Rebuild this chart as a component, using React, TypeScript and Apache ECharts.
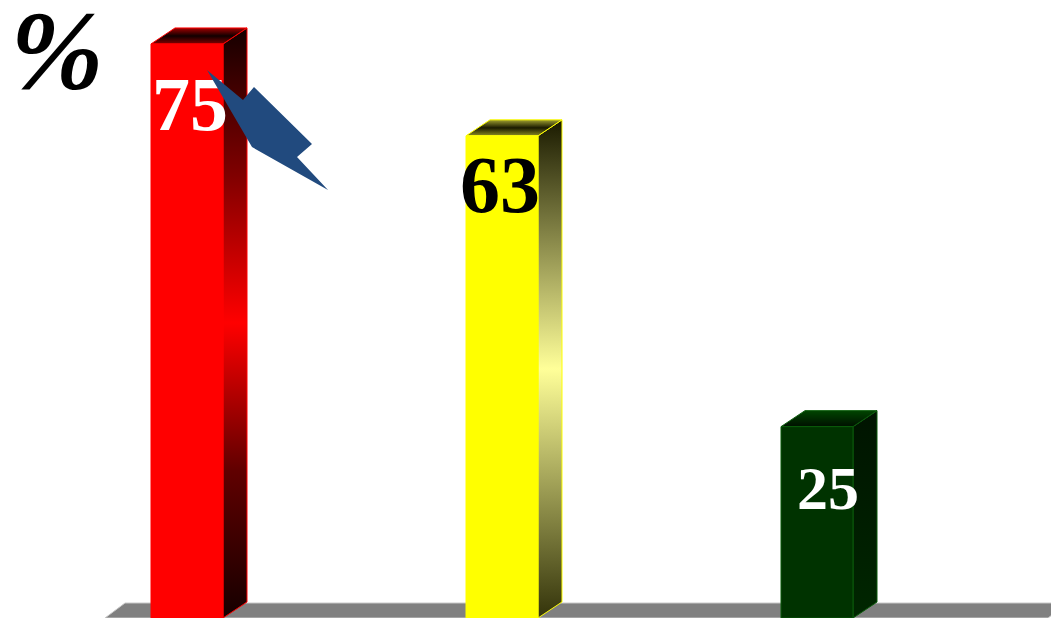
import React, { useEffect, useRef } from "react";
import * as echarts from "echarts";

const categories = ["A", "B", "C"];
const values = [75, 63, 25];
const valueLabels = ["75", "63", "25"];

const BAR_W = 72;
const DEPTH_X = 24;
const DEPTH_Y = -16;

const barStyles = [
  {
    front: "#ff0000",
    stroke: "#ff0000",
    side: [
      [0, "#150000"],
      [0.25, "#800000"],
      [0.5, "#ff0000"],
      [0.75, "#600000"],
      [1, "#150000"],
    ],
    top: [
      [0, "#a00000"],
      [0.5, "#100000"],
      [1, "#800000"],
    ],
  },
  {
    front: "#ffff00",
    stroke: "#ffff00",
    side: [
      [0, "#1a1a00"],
      [0.5, "#ffff99"],
      [1, "#33330a"],
    ],
    top: [
      [0, "#a0a030"],
      [0.5, "#1a1a00"],
      [1, "#8a8a20"],
    ],
  },
  {
    front: "#003300",
    stroke: "#0a5a0a",
    side: [
      [0, "#001400"],
      [1, "#002600"],
    ],
    top: [
      [0, "#004400"],
      [1, "#001000"],
    ],
  },
];

const labelStyles = [
  { color: "#ffffff", size: 76, dx: 3, dy: 60 },
  { color: "#000000", size: 80, dx: -2, dy: 49 },
  { color: "#ffffff", size: 62, dx: 11, dy: 61 },
];

function grad(stops: any[]) {
  return new echarts.graphic.LinearGradient(
    0,
    0,
    0,
    1,
    stops.map((s) => ({ offset: s[0], color: s[1] }))
  );
}

export default function App() {
  const ref = useRef<HTMLDivElement>(null);
  useEffect(() => {
    if (!ref.current) return;
    const chart = echarts.init(ref.current, undefined, { renderer: "svg" });
    const option: any = {
      animation: false,
      backgroundColor: "#ffffff",
      grid: { left: 29.5, right: 76.5, top: 5.7, bottom: 0 },
      xAxis: {
        type: "category",
        data: categories,
        show: false,
      },
      yAxis: {
        type: "value",
        min: 0,
        max: 80,
        show: false,
        splitLine: { show: false },
      },
      graphic: [
        {
          type: "polygon",
          z: 0,
          shape: {
            points: [
              [105, 618],
              [125, 603],
              [1068, 603],
              [1048, 618],
            ],
          },
          style: { fill: "#808080", stroke: "#c8c8c8", lineWidth: 1 },
        },
        {
          type: "polygon",
          z: 100,
          shape: {
            points: [
              [207, 70],
              [243, 100],
              [254, 87],
              [312, 144],
              [297, 157],
              [328, 190],
              [252, 147],
            ],
          },
          style: { fill: "#214a7e" },
        },
        {
          type: "text",
          z: 100,
          x: 57,
          y: 51,
          style: {
            text: "%",
            fill: "#000000",
            font: 'italic bold 112px "Liberation Serif"',
            lineHeight: 84,
            align: "center",
            verticalAlign: "middle",
          },
        },
      ],
      series: [
        {
          type: "custom",
          z: 5,
          data: values.map((v, i) => [i, v]),
          encode: { x: 0, y: 1 },
          renderItem: (params: any, api: any) => {
            const i = api.value(0);
            const v = api.value(1);
            const topPt = api.coord([i, v]);
            const basePt = api.coord([i, 0]);
            const cx = topPt[0];
            const x0 = cx - BAR_W / 2;
            const x1 = cx + BAR_W / 2;
            const yT = topPt[1];
            const yB = basePt[1];
            const st = barStyles[i];
            const ls = labelStyles[i];
            return {
              type: "group",
              children: [
                {
                  type: "polygon",
                  shape: {
                    points: [
                      [x1, yT],
                      [x1 + DEPTH_X, yT + DEPTH_Y],
                      [x1 + DEPTH_X, yB + DEPTH_Y],
                      [x1, yB],
                    ],
                  },
                  style: { fill: grad(st.side), stroke: st.stroke, lineWidth: 1 },
                },
                {
                  type: "polygon",
                  shape: {
                    points: [
                      [x0, yT],
                      [x0 + DEPTH_X, yT + DEPTH_Y],
                      [x1 + DEPTH_X, yT + DEPTH_Y],
                      [x1, yT],
                    ],
                  },
                  style: { fill: grad(st.top), stroke: st.stroke, lineWidth: 1 },
                },
                {
                  type: "rect",
                  shape: { x: x0, y: yT, width: BAR_W, height: yB - yT },
                  style: { fill: st.front, stroke: st.stroke, lineWidth: 1 },
                },
                {
                  type: "text",
                  x: cx + ls.dx,
                  y: yT + ls.dy,
                  style: {
                    text: valueLabels[i],
                    fill: ls.color,
                    font: "bold " + ls.size + 'px "Liberation Serif"',
                    align: "center",
                    verticalAlign: "middle",
                  },
                },
              ],
            };
          },
        },
      ],
    };
    chart.setOption(option);
    return () => chart.dispose();
  }, []);
  return (
    <div
      ref={ref}
      style={{ position: "absolute", left: 0, top: 0, width: 1051, height: 618 }}
    />
  );
}
